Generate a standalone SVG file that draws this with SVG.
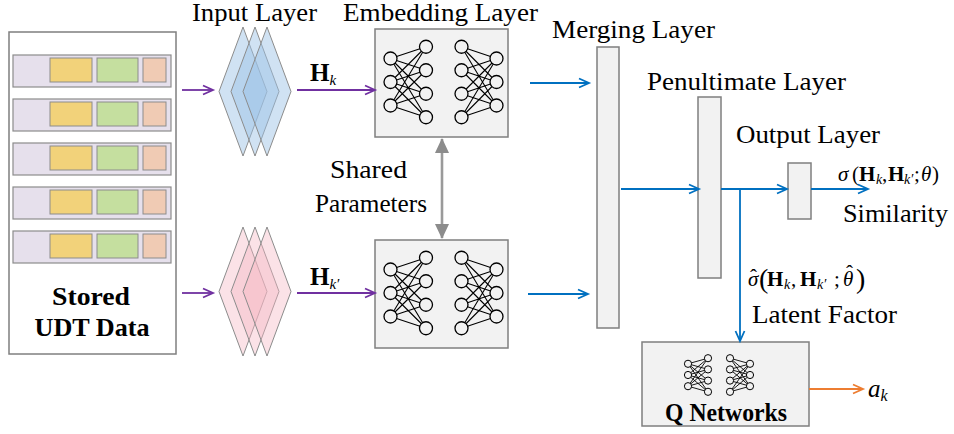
<svg xmlns="http://www.w3.org/2000/svg" width="954" height="434" viewBox="0 0 954 434">
<style>
text{font-family:"Liberation Serif","Times New Roman",serif}
.lbl{font-size:25px;fill:#000}
.bld{font-size:25px;font-weight:bold;fill:#000}
.f{font-size:21px;fill:#000}
.fi{font-style:italic}
.fb{font-weight:bold}
.fs{font-size:14px;font-style:italic}
.fp{font-size:28px}
.box{fill:#f2f2f2;stroke:#7f7f7f;stroke-width:1.5}
.row{fill:#e6e0ec;stroke:#8c8c8c;stroke-width:1.2}
.y{fill:#f2d27a;stroke:#8c8c8c;stroke-width:1}
.g{fill:#c5df9f;stroke:#8c8c8c;stroke-width:1}
.p{fill:#f0cbb4;stroke:#8c8c8c;stroke-width:1}
.db{fill:#9dc3e6;fill-opacity:0.48;stroke:#8c8c8c;stroke-width:1}
.dp{fill:#f4b6c2;fill-opacity:0.4;stroke:#8c8c8c;stroke-width:1}
.pu{stroke:#7030a0;stroke-width:1.8;fill:none;marker-end:url(#mp)}
.bl{stroke:#0070c0;stroke-width:1.8;fill:none}
.ba{marker-end:url(#mb)}
.or{stroke:#ed7d31;stroke-width:1.8;fill:none;marker-end:url(#mo)}
.nnl{stroke:#000;stroke-width:1.1;fill:none}
.nnc{fill:#f2f2f2;stroke:#000;stroke-width:1.3}
.nns{stroke:#000;stroke-width:0.9;fill:none}
.nnsc{fill:#f2f2f2;stroke:#000;stroke-width:1}
</style>
<defs>
<marker id="mp" markerUnits="userSpaceOnUse" markerWidth="12" markerHeight="12" refX="10" refY="5" orient="auto" overflow="visible"><path d="M0,0.5 L10,5 L0,9.5" fill="none" stroke="#7030a0" stroke-width="1.8"/></marker>
<marker id="mb" markerUnits="userSpaceOnUse" markerWidth="12" markerHeight="12" refX="10" refY="5" orient="auto" overflow="visible"><path d="M0,0.5 L10,5 L0,9.5" fill="none" stroke="#0070c0" stroke-width="1.8"/></marker>
<marker id="mo" markerUnits="userSpaceOnUse" markerWidth="12" markerHeight="12" refX="10" refY="5" orient="auto" overflow="visible"><path d="M0,0.5 L10,5 L0,9.5" fill="none" stroke="#ed7d31" stroke-width="1.8"/></marker>
<marker id="mg" markerUnits="userSpaceOnUse" markerWidth="16" markerHeight="16" refX="14" refY="7" orient="auto-start-reverse" overflow="visible"><path d="M0,0 L15,7 L0,14 Z" fill="#8c8c8c"/></marker>
<g id="nn">
<path class="nnl" d="M0,-23.5L35.5,-35.25M0,-23.5L35.5,-11.75M0,-23.5L35.5,11.75M0,-23.5L35.5,35.25M0,0L35.5,-35.25M0,0L35.5,-11.75M0,0L35.5,11.75M0,0L35.5,35.25M0,23.5L35.5,-35.25M0,23.5L35.5,-11.75M0,23.5L35.5,11.75M0,23.5L35.5,35.25M106,-23.5L71,-35.25M106,-23.5L71,-11.75M106,-23.5L71,11.75M106,-23.5L71,35.25M106,0L71,-35.25M106,0L71,-11.75M106,0L71,11.75M106,0L71,35.25M106,23.5L71,-35.25M106,23.5L71,-11.75M106,23.5L71,11.75M106,23.5L71,35.25"/>
<circle class="nnc" cx="0" cy="-23.5" r="6.5"/><circle class="nnc" cx="0" cy="0" r="6.5"/><circle class="nnc" cx="0" cy="23.5" r="6.5"/>
<circle class="nnc" cx="35.5" cy="-35.25" r="6.5"/><circle class="nnc" cx="35.5" cy="-11.75" r="6.5"/><circle class="nnc" cx="35.5" cy="11.75" r="6.5"/><circle class="nnc" cx="35.5" cy="35.25" r="6.5"/>
<circle class="nnc" cx="71" cy="-35.25" r="6.5"/><circle class="nnc" cx="71" cy="-11.75" r="6.5"/><circle class="nnc" cx="71" cy="11.75" r="6.5"/><circle class="nnc" cx="71" cy="35.25" r="6.5"/>
<circle class="nnc" cx="106" cy="-23.5" r="6.5"/><circle class="nnc" cx="106" cy="0" r="6.5"/><circle class="nnc" cx="106" cy="23.5" r="6.5"/>
</g>
<g id="nns">
<path class="nns" d="M0,-11.2L20,-16.8M0,-11.2L20,-5.6M0,-11.2L20,5.6M0,-11.2L20,16.8M0,0L20,-16.8M0,0L20,-5.6M0,0L20,5.6M0,0L20,16.8M0,11.2L20,-16.8M0,11.2L20,-5.6M0,11.2L20,5.6M0,11.2L20,16.8M62,-11.2L42,-16.8M62,-11.2L42,-5.6M62,-11.2L42,5.6M62,-11.2L42,16.8M62,0L42,-16.8M62,0L42,-5.6M62,0L42,5.6M62,0L42,16.8M62,11.2L42,-16.8M62,11.2L42,-5.6M62,11.2L42,5.6M62,11.2L42,16.8"/>
<circle class="nnsc" cx="0" cy="-11.2" r="3.6"/><circle class="nnsc" cx="0" cy="0" r="3.6"/><circle class="nnsc" cx="0" cy="11.2" r="3.6"/>
<circle class="nnsc" cx="20" cy="-16.8" r="3.6"/><circle class="nnsc" cx="20" cy="-5.6" r="3.6"/><circle class="nnsc" cx="20" cy="5.6" r="3.6"/><circle class="nnsc" cx="20" cy="16.8" r="3.6"/>
<circle class="nnsc" cx="42" cy="-16.8" r="3.6"/><circle class="nnsc" cx="42" cy="-5.6" r="3.6"/><circle class="nnsc" cx="42" cy="5.6" r="3.6"/><circle class="nnsc" cx="42" cy="16.8" r="3.6"/>
<circle class="nnsc" cx="62" cy="-11.2" r="3.6"/><circle class="nnsc" cx="62" cy="0" r="3.6"/><circle class="nnsc" cx="62" cy="11.2" r="3.6"/>
</g>
<g id="rowcells">
<rect class="row" x="13" y="0" width="158" height="32"/>
<rect class="y" x="50" y="3" width="42" height="24"/>
<rect class="g" x="97" y="3" width="41" height="24"/>
<rect class="p" x="143" y="3" width="23" height="24"/>
</g>
</defs>
<rect width="954" height="434" fill="#fff"/>

<g id="stored">
<rect x="9" y="32" width="167" height="322" fill="#fff" stroke="#7f7f7f" stroke-width="1.5"/>
<use href="#rowcells" y="55"/>
<use href="#rowcells" y="99"/>
<use href="#rowcells" y="143"/>
<use href="#rowcells" y="187"/>
<use href="#rowcells" y="231"/>
<text class="bld" x="91" y="305" text-anchor="middle" font-size="26" textLength="78" lengthAdjust="spacingAndGlyphs">Stored</text>
<text class="bld" x="92" y="336" text-anchor="middle" font-size="26" textLength="115" lengthAdjust="spacingAndGlyphs">UDT Data</text>
</g>

<g id="input-top">
<polygon class="db" points="243,27 267,91.5 243,156 219,91.5"/>
<polygon class="db" points="255,27 279,91.5 255,156 231,91.5"/>
<polygon class="db" points="267,27 291,91.5 267,156 243,91.5"/>
</g>
<g id="input-bottom">
<polygon class="dp" points="243,227 267,291.5 243,356 219,291.5"/>
<polygon class="dp" points="255,227 279,291.5 255,356 231,291.5"/>
<polygon class="dp" points="267,227 291,291.5 267,356 243,291.5"/>
</g>
<text class="lbl" x="192" y="21" textLength="125" lengthAdjust="spacingAndGlyphs">Input Layer</text>

<g id="embed-top">
<rect class="box" x="375" y="29" width="133" height="108"/>
<use href="#nn" x="390.5" y="82"/>
</g>
<g id="embed-bottom">
<rect class="box" x="375" y="240" width="133" height="108"/>
<use href="#nn" x="390.5" y="293"/>
</g>
<text class="lbl" x="343" y="21" textLength="195" lengthAdjust="spacingAndGlyphs">Embedding Layer</text>
<text class="lbl" x="330" y="178" textLength="77" lengthAdjust="spacingAndGlyphs">Shared</text>
<text class="lbl" x="315" y="212" textLength="112" lengthAdjust="spacingAndGlyphs">Parameters</text>

<g id="merging">
<rect class="box" x="597" y="47" width="22" height="281"/>
<text class="lbl" x="552" y="38" textLength="163" lengthAdjust="spacingAndGlyphs">Merging Layer</text>
</g>
<g id="penultimate">
<rect class="box" x="698" y="97" width="23" height="181"/>
<text class="lbl" x="647" y="90" textLength="199" lengthAdjust="spacingAndGlyphs">Penultimate Layer</text>
</g>
<g id="output">
<rect class="box" x="788" y="163" width="23" height="56"/>
<text class="lbl" x="736" y="143" textLength="144" lengthAdjust="spacingAndGlyphs">Output Layer</text>
</g>
<g id="qnet">
<rect class="box" x="642" y="342" width="167" height="84"/>
<use href="#nns" x="688" y="375"/>
<text class="bld" x="726" y="421" text-anchor="middle" font-size="22" textLength="122" lengthAdjust="spacingAndGlyphs">Q Networks</text>
</g>

<g id="connectors">
<line class="pu" x1="182" y1="90" x2="213" y2="90"/>
<line class="pu" x1="182" y1="293" x2="213" y2="293"/>
<line class="pu" x1="297" y1="90" x2="375" y2="90"/>
<line class="pu" x1="297" y1="293" x2="375" y2="293"/>
<line x1="442" y1="139" x2="442" y2="238" stroke="#9a9a9a" stroke-width="2.6" marker-start="url(#mg)" marker-end="url(#mg)"/>
<line class="bl ba" x1="530" y1="83" x2="589" y2="83"/>
<line class="bl ba" x1="528" y1="294" x2="588" y2="294"/>
<line class="bl ba" x1="621" y1="189" x2="699" y2="189"/>
<line class="bl ba" x1="721" y1="189" x2="787" y2="189"/>
<line class="bl ba" x1="811" y1="189" x2="868" y2="189"/>
<line class="bl ba" x1="740" y1="189" x2="740" y2="341"/>
<line class="or" x1="809" y1="389" x2="863" y2="389"/>
</g>

<g id="labels">
<text class="bld" x="310" y="81" font-size="25">H<tspan font-weight="normal" font-style="italic" font-size="15" dy="4">k</tspan></text>
<text class="bld" x="310" y="285" font-size="25">H<tspan font-weight="normal" font-style="italic" font-size="15" dy="4">k′</tspan></text>
<text class="f"><tspan class="fi" x="838" y="181">σ</tspan><tspan x="852" y="181">(</tspan><tspan class="fb" x="859" y="181">H</tspan><tspan class="fs" x="876" y="184">k</tspan><tspan x="882" y="181">,</tspan><tspan class="fb" x="888" y="181">H</tspan><tspan class="fs" x="904" y="184">k′</tspan><tspan x="914" y="181">;</tspan><tspan class="fi" x="921" y="181">θ</tspan><tspan x="932" y="181">)</tspan></text>
<text class="lbl" x="843" y="222" textLength="105" lengthAdjust="spacingAndGlyphs">Similarity</text>
<text class="f"><tspan class="fi" x="748" y="286">σ</tspan><tspan x="750" y="284">ˆ</tspan><tspan class="fp" x="759" y="288">(</tspan><tspan class="fb" x="767" y="286">H</tspan><tspan class="fs" x="784" y="289">k</tspan><tspan x="791" y="286">,</tspan><tspan class="fb" x="800" y="286">H</tspan><tspan class="fs" x="817" y="289">k′</tspan><tspan x="834" y="286">;</tspan><tspan class="fi" x="843" y="286">θ</tspan><tspan x="846" y="280">ˆ</tspan><tspan class="fp" x="856" y="288">)</tspan></text>
<text class="lbl" x="752" y="323" textLength="145" lengthAdjust="spacingAndGlyphs">Latent Factor</text>
<text class="lbl" x="868" y="397" font-size="28" font-style="italic">a<tspan font-size="16" dy="4">k</tspan></text>
</g>
</svg>
